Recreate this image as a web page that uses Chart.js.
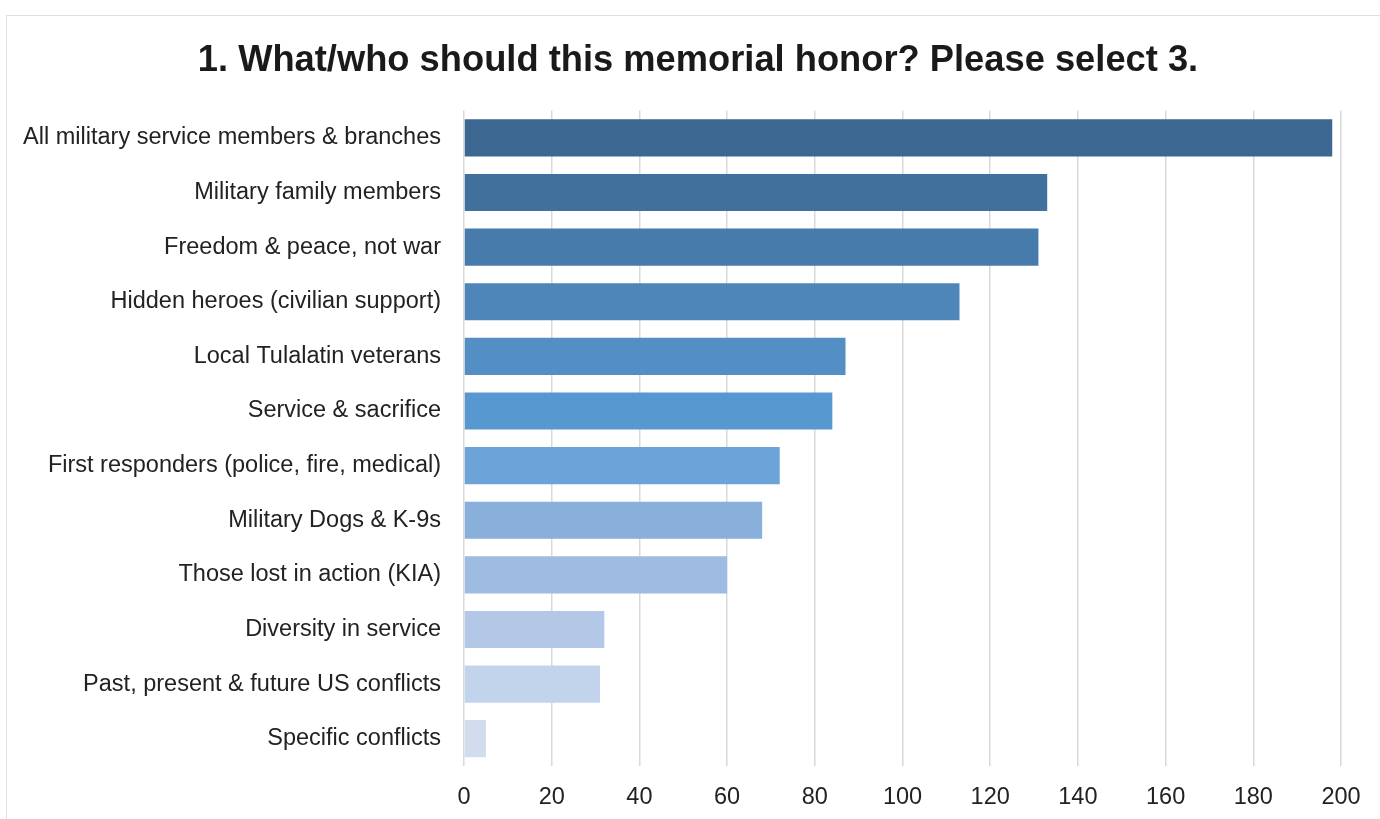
<!DOCTYPE html>
<html lang="en">
  <head>
    <meta charset="UTF-8" />
    <title>Memorial Survey</title>
    <style>
      body {
        margin: 0;
        background: #fff;
        font-family: "Liberation Sans", Arial, Helvetica, sans-serif;
        overflow: hidden;
      }
      .frame {
        position: absolute;
        left: 6px;
        top: 15px;
        width: 1400px;
        height: 900px;
        border: 1px solid #e0e0e0;
      }
      .box {
        position: absolute;
        left: 0;
        top: 0;
        width: 1374px;
        height: 803px;
      }
    </style>
    <script src="https://cdn.jsdelivr.net/npm/chart.js"></script>
  </head>
  <body>
    <div class="frame">
      <div class="box"><canvas id="chart"></canvas></div>
    </div>

    <script>
      // answers, most picked first
      const categories = [
        "All military service members & branches",
        "Military family members",
        "Freedom & peace, not war",
        "Hidden heroes (civilian support)",
        "Local Tulalatin veterans",
        "Service & sacrifice",
        "First responders (police, fire, medical)",
        "Military Dogs & K-9s",
        "Those lost in action (KIA)",
        "Diversity in service",
        "Past, present & future US conflicts",
        "Specific conflicts",
      ];
      const votes = [198, 133, 131, 113, 87, 84, 72, 68, 60, 32, 31, 5];
      const xTicks = [0, 20, 40, 60, 80, 100, 120, 140, 160, 180, 200];

      // dark to light blue
      const barColors = [
        "#3b6790", "#40719c", "#467bab", "#4f86b9", "#538fc5", "#5898d1",
        "#6ca3d9", "#89afdb", "#9ebce1", "#b3c8e6", "#c2d3ec", "#d1ddef",
      ];

      new Chart(document.getElementById("chart"), {
        type: "bar",
        data: {
          labels: categories,
          datasets: [
            {
              data: votes,
              backgroundColor: barColors,
              borderWidth: 0,
              categoryPercentage: 1,
              barPercentage: 0.68,
            },
          ],
        },
        options: {
          indexAxis: "y",
          responsive: true,
          maintainAspectRatio: false,
          animation: false,
          layout: { padding: { left: 8, right: 0, top: 0, bottom: 8 } },
          plugins: {
            legend: { display: false },
            tooltip: { enabled: false },
            title: {
              display: true,
              text: "1. What/who should this memorial honor? Please select 3.",
              color: "#1a1a1a",
              font: { family: "'Liberation Sans', Arial", size: 36.3, weight: "bold" },
              padding: { top: 23, bottom: 28 },
            },
          },
          scales: {
            x: {
              min: 0,
              max: 200,
              afterBuildTicks: (scale) => {
                scale.ticks = xTicks.map((v) => ({ value: v }));
              },
              afterFit: (scale) => {
                scale.height = 45;
              },
              grid: { color: "#d9d9d9", lineWidth: 1.5, drawTicks: false },
              border: { display: false },
              ticks: {
                color: "#222",
                padding: 17,
                font: { family: "'Liberation Sans', Arial", size: 23.5 },
              },
            },
            y: {
              afterFit: (scale) => {
                scale.width = 449;
              },
              grid: { display: false, drawTicks: false },
              border: { display: false },
              ticks: {
                color: "#222",
                padding: 23,
                font: { family: "'Liberation Sans', Arial", size: 23.5 },
              },
            },
            // empty right margin so the title centres like the original
            yRight: {
              type: "category",
              position: "right",
              afterFit: (scale) => {
                scale.width = 40;
              },
              grid: { display: false, drawTicks: false },
              border: { display: false },
              ticks: { display: false },
            },
          },
        },
      });
    </script>
  </body>
</html>
